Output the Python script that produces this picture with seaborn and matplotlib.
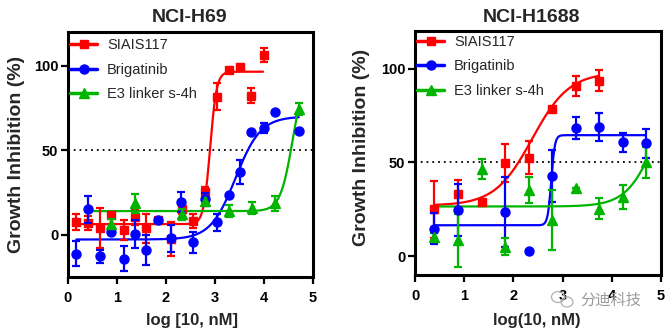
import numpy as np
import pandas as pd
import matplotlib
matplotlib.use("Agg")
import matplotlib.pyplot as plt
from matplotlib.lines import Line2D
from matplotlib.patches import Ellipse
import seaborn as sns

# ---------------- NCI-H69 ----------------
h69_siais_x = [0.17, 0.40, 0.66, 0.87, 1.14, 1.36, 1.60, 1.83, 2.10, 2.32, 2.56, 2.79, 3.05, 3.28, 3.52, 3.74, 4.01]
h69_siais_y = [7.3, 7.0, 3.9, 11.8, 2.9, 10.5, 3.9, 8.8, -2.5, 15.3, 8.2, 25.5, 81.8, 97.4, 99.0, 82.4, 106.5]
h69_siais_e = [4.7, 4.0, 11.8, 0.0, 6.0, 5.0, 8.5, 0.0, 10.0, 3.0, 4.0, 3.0, 8.0, 0.0, 0.0, 4.5, 4.3]

h69_brig_x = [0.17, 0.40, 0.66, 0.87, 1.14, 1.36, 1.60, 1.83, 2.10, 2.31, 2.56, 2.79, 3.05, 3.28, 3.52, 3.74, 4.01, 4.23, 4.71]
h69_brig_y = [-11.2, 15.1, -12.7, 1.4, -14.1, 0.4, -9.2, 8.8, -2.0, 19.6, -4.5, 21.0, 7.5, 23.5, 37.3, 60.8, 63.1, 72.6, 61.2]
h69_brig_e = [7.3, 8.0, 3.8, 0.0, 7.2, 8.5, 8.8, 0.0, 8.0, 6.0, 6.0, 4.0, 5.0, 0.0, 7.0, 0.0, 3.0, 0.0, 0.0]

h69_e3_x = [0.87, 1.36, 2.32, 2.79, 3.28, 3.76, 4.22, 4.71]
h69_e3_y = [6.5, 18.6, 12.0, 20.0, 14.3, 15.7, 18.6, 74.5]
h69_e3_e = [3.0, 5.5, 3.0, 2.5, 3.5, 3.5, 4.5, 3.5]

# 4PL fits: bottom, top, logEC50, hill, x-start, x-end
h69_siais_fit = [6.3, 96.5, 2.9, 6.5, 0.17, 3.98]
h69_brig_fit = [-2.8, 70.0, 3.42, 1.7, 0.17, 4.71]
h69_e3_fit = [14.0, 100.0, 4.59, 3.4, 0.35, 4.71]

# ---------------- NCI-H1688 ----------------
h1688_siais_x = [0.39, 0.87, 1.36, 1.82, 2.31, 2.79, 3.28, 3.74]
h1688_siais_y = [24.9, 32.9, 28.8, 49.6, 52.6, 78.3, 90.6, 93.6]
h1688_siais_e = [15.0, 7.5, 0.0, 10.0, 9.0, 0.0, 5.3, 5.5]

h1688_brig_x = [0.39, 0.87, 1.82, 2.31, 2.79, 3.28, 3.74, 4.22, 4.69]
h1688_brig_y = [14.7, 24.7, 23.5, 2.6, 42.9, 68.2, 68.9, 60.6, 60.1]
h1688_brig_e = [8.2, 14.0, 18.5, 0.0, 13.8, 6.0, 7.3, 5.3, 7.5]

h1688_e3_x = [0.39, 0.87, 1.36, 1.82, 2.31, 2.79, 3.28, 3.74, 4.22, 4.69]
h1688_e3_y = [10.2, 8.5, 46.5, 5.0, 35.3, 19.5, 36.2, 25.3, 31.4, 50.0]
h1688_e3_e = [2.0, 14.0, 5.3, 4.5, 6.7, 16.0, 0.0, 5.5, 6.5, 8.3]

h1688_siais_fit = [27.0, 98.0, 2.38, 1.15, 0.39, 3.74]
h1688_brig_fit = [16.5, 64.5, 2.77, 12.0, 0.39, 4.69]
h1688_e3_fit = [26.5, 100.0, 4.92, 1.43, 0.39, 4.69]

series_names = ["SIAIS117", "Brigatinib", "E3 linker s-4h"]
colors = ["#ff0000", "#0000ff", "#00b400"]
markers = ["s", "o", "^"]
msizes = [6.0, 6.5, 6.5]

sns.set_theme(style="ticks")
plt.rcParams["font.family"] = ["Liberation Sans", "DejaVu Sans"]


def four_pl(x, bottom, top, ec50, hill):
    return bottom + (top - bottom) / (1.0 + 10 ** ((ec50 - x) * hill))


def draw_panel(ax, points, fits, ylim, legend_anchor):
    # fitted curves
    for (b, t, c, h, x0, x1), col in zip(fits, colors):
        xs = np.linspace(x0, x1, 400)
        df = pd.DataFrame({"x": xs, "y": four_pl(xs, b, t, c, h)})
        sns.lineplot(data=df, x="x", y="y", ax=ax, color=col, lw=1.6,
                     legend=False, zorder=2)
    # data points: green, then red, then blue on top
    for idx in [2, 0, 1]:
        x, y, e = points[idx]
        ax.errorbar(x, y, yerr=e, fmt=markers[idx], color=colors[idx],
                    ms=msizes[idx], mec=colors[idx], elinewidth=1.6,
                    capsize=3.0, capthick=1.6, zorder=3 + idx * 0.1)
    ax.axhline(50, color="black", ls=(0, (1, 2.2)), lw=1.3, zorder=1)
    ax.set_xlim(0, 5)
    ax.set_ylim(*ylim)
    ax.set_xticks([0, 1, 2, 3, 4, 5])
    ax.set_yticks([0, 50, 100])
    ax.set_xlabel("")
    ax.set_ylabel("")
    for s in ax.spines.values():
        s.set_linewidth(2.2)
        s.set_color("black")
        s.set_visible(True)
    ax.tick_params(axis="both", direction="out", width=1.6, length=5,
                   labelsize=10.5, colors="black")
    ax.tick_params(axis="x", pad=5)
    ax.tick_params(axis="y", pad=2)
    for lab in ax.get_xticklabels() + ax.get_yticklabels():
        lab.set_fontweight("bold")
    handles = [Line2D([0], [0], color=c, marker=m, lw=2.5, ms=ms)
               for c, m, ms in zip(colors, markers, msizes)]
    ax.legend(handles, series_names, loc="upper left",
              bbox_to_anchor=legend_anchor, frameon=False, fontsize=10.5,
              borderpad=0, borderaxespad=0, handlelength=1.8,
              handletextpad=0.7, labelspacing=0.72)


fig = plt.figure(figsize=(6.67, 3.34), dpi=100)
W, H = 667.0, 334.0
ax1 = fig.add_axes([68 / W, 1 - 277 / H, 245 / W, 245 / H])
ax2 = fig.add_axes([415 / W, 1 - 275 / H, 246 / W, 244 / H])

draw_panel(ax1,
           [(h69_siais_x, h69_siais_y, h69_siais_e),
            (h69_brig_x, h69_brig_y, h69_brig_e),
            (h69_e3_x, h69_e3_y, h69_e3_e)],
           [h69_siais_fit, h69_brig_fit, h69_e3_fit],
           (-25, 120), (0.01, 0.975))
draw_panel(ax2,
           [(h1688_siais_x, h1688_siais_y, h1688_siais_e),
            (h1688_brig_x, h1688_brig_y, h1688_brig_e),
            (h1688_e3_x, h1688_e3_y, h1688_e3_e)],
           [h1688_siais_fit, h1688_brig_fit, h1688_e3_fit],
           (-10, 120), (0.01, 0.985))

# titles and axis labels
fig.text(190 / W, 1 - 17 / H, "NCI-H69", ha="center", va="center",
         fontsize=14, fontweight="bold")
fig.text(532 / W, 1 - 17 / H, "NCI-H1688", ha="center", va="center",
         fontsize=14, fontweight="bold")
fig.text(17 / W, 1 - 154 / H, "Growth Inhibition (%)", rotation=90,
         ha="center", va="center", fontsize=14, fontweight="bold")
fig.text(362 / W, 1 - 147 / H, "Growth Inhibition (%)", rotation=90,
         ha="center", va="center", fontsize=14, fontweight="bold")
fig.text(192 / W, 1 - 320 / H, "log [10, nM]", ha="center", va="center",
         fontsize=12, fontweight="bold")
fig.text(537 / W, 1 - 320 / H, "log(10, nM)", ha="center", va="center",
         fontsize=12, fontweight="bold")

# account watermark
fig.text(580 / W, 1 - 300 / H, "分迪科技", ha="left", va="center",
         fontsize=11, color="#9a9a9a",
         family=["Noto Sans CJK SC", "DejaVu Sans"])
for cx, cy, w, h in [(558, 297, 13, 11), (567, 302, 12, 10)]:
    fig.add_artist(Ellipse((cx / W, 1 - cy / H), w / W, h / H,
                           transform=fig.transFigure, fill=False,
                           ec="#b0b0b0", lw=0.9))

fig.savefig("out.png", dpi=100)
